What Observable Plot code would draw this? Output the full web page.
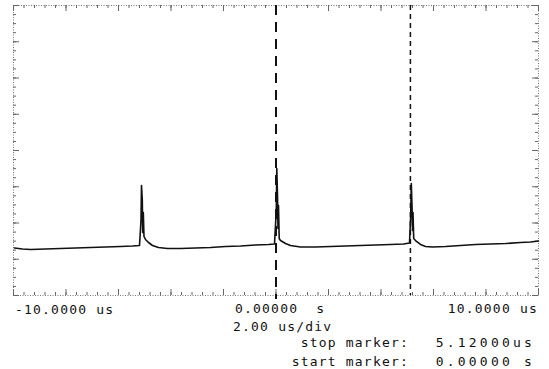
<!DOCTYPE html>
<html>
<head>
<meta charset="utf-8">
<script src="https://cdn.jsdelivr.net/npm/d3@7"></script>
<script src="https://cdn.jsdelivr.net/npm/@observablehq/plot@0.6"></script>
<style>
  html, body { margin: 0; padding: 0; background: #fff; }
  #wrap { position: relative; width: 549px; height: 369px; overflow: hidden; background: #fff; }
  #chart { position: absolute; left: 0; top: 0; }
  .lbl { position: absolute; font-family: "DejaVu Sans Mono", monospace; font-size: 13px; line-height: 13px;
         letter-spacing: 1.2px; white-space: pre; color: #111; }
  .val { letter-spacing: 3.2px; }
</style>
</head>
<body>
<div id="wrap"><div id="chart"></div></div>
<script>
// ---- data (time in microseconds, amplitude in screen divisions) ----
const times = [
  -9.962, -9.657, -9.352, -8.781, -8.210, -7.638, -7.067, -6.495, -5.924, -5.467, -5.200,
  -5.143, -5.124, -5.093, -5.078, -5.055, -5.029, -4.971, -4.857, -4.705, -4.476, -4.133,
  -3.638, -3.067, -2.495, -1.924, -1.352, -0.781, -0.286, -0.057,
  0.011, 0.030, 0.057, 0.076, 0.095, 0.122, 0.171, 0.362, 0.552, 0.933,
  1.505, 2.076, 2.648, 3.219, 3.790, 4.362, 4.857, 5.086,
  5.131, 5.154, 5.181, 5.200, 5.219, 5.246, 5.314, 5.505, 5.695, 5.962,
  6.457, 7.029, 7.600, 8.171, 8.743, 9.314, 9.695, 10.0
];
const values = [
  -2.690, -2.717, -2.731, -2.717, -2.703, -2.690, -2.676, -2.662, -2.648, -2.634, -2.621,
  -1.931, -0.966, -1.379, -2.262, -1.710, -2.372, -2.455, -2.538, -2.621, -2.676, -2.703,
  -2.703, -2.690, -2.676, -2.648, -2.634, -2.607, -2.593, -2.579,
  -1.655, -0.500, -1.241, -2.152, -1.517, -2.428, -2.483, -2.566, -2.621, -2.662,
  -2.662, -2.648, -2.634, -2.621, -2.607, -2.593, -2.579, -2.552,
  -1.793, -0.910, -1.517, -2.207, -1.710, -2.428, -2.483, -2.593, -2.648, -2.662,
  -2.648, -2.621, -2.593, -2.579, -2.566, -2.538, -2.524, -2.497
];
const markerTimes = [0, 5.12];              // start marker, stop marker (us)
const xEdgeLabels = ["-10.0000 us", "0.00000  s", "10.0000 us"];
const timebaseLabel = "2.00 us/div";
const markerNames = ["stop marker:", "start marker:"];
const markerValues = ["5.12000us", "0.00000 s"];

// graticule tick positions along the border
const xMinor = d3.range(-10, 10.001, 0.4).map(v => +v.toFixed(2));
const xMajor = d3.range(-10, 10.001, 2);
const yMinor = d3.range(-4, 4.001, 0.25);
const yMajor = d3.range(-4, 4.001, 1);

const trace = times.map((t, i) => ({t, v: values[i]}));

const W = 549, H = 300, mL = 13, mR = 11, mT = 5, mB = 5;
const fw = W - mL - mR, fh = H - mT - mB;
const tc = "#666";

const chart = Plot.plot({
  width: W, height: H,
  marginLeft: mL, marginRight: mR, marginTop: mT, marginBottom: mB,
  x: {domain: [-10, 10], axis: null},
  y: {domain: [-4, 4], axis: null},
  style: {background: "white", overflow: "visible"},
  marks: [
    Plot.frame({stroke: "#777", strokeWidth: 1, strokeDasharray: "1,1.5"}),
    // top / bottom border ticks
    Plot.ruleX(xMinor, {stroke: tc, strokeWidth: 1, insetBottom: fh - 3}),
    Plot.ruleX(xMajor, {stroke: tc, strokeWidth: 1, insetBottom: fh - 6}),
    Plot.ruleX(xMinor, {stroke: tc, strokeWidth: 1, insetTop: fh - 3}),
    Plot.ruleX(xMajor, {stroke: tc, strokeWidth: 1, insetTop: fh - 6}),
    // left / right border ticks
    Plot.ruleY(yMinor, {stroke: tc, strokeWidth: 1, insetRight: fw - 3}),
    Plot.ruleY(yMajor, {stroke: tc, strokeWidth: 1, insetRight: fw - 6}),
    Plot.ruleY(yMinor, {stroke: tc, strokeWidth: 1, insetLeft: fw - 3}),
    Plot.ruleY(yMajor, {stroke: tc, strokeWidth: 1, insetLeft: fw - 6}),
    // markers
    Plot.ruleX([markerTimes[0]], {stroke: "#111", strokeWidth: 2, strokeDasharray: "10,7", insetBottom: -4}),
    Plot.ruleX([markerTimes[1]], {stroke: "#111", strokeWidth: 1.5, strokeDasharray: "5,4"}),
    // trace
    Plot.line(trace, {x: "t", y: "v", stroke: "#111", strokeWidth: 1.6, curve: "linear"})
  ]
});
document.getElementById("chart").appendChild(chart);

// text below the graticule
const wrap = document.getElementById("wrap");
function addLabel(text, style, cls) {
  const d = document.createElement("div");
  d.className = "lbl" + (cls ? " " + cls : "");
  d.textContent = text;
  Object.assign(d.style, style);
  wrap.appendChild(d);
}
addLabel(xEdgeLabels[0], {left: "15px", top: "303px"});
addLabel(xEdgeLabels[1], {left: "235px", top: "302px"});
addLabel(xEdgeLabels[2], {right: "11px", top: "302px"});
addLabel(timebaseLabel, {left: "233px", top: "320px"});
addLabel(markerNames[0], {right: "140px", top: "336px"});
addLabel(markerValues[0], {right: "14px", top: "336px"}, "val");
addLabel(markerNames[1], {right: "140px", top: "355px"});
addLabel(markerValues[1], {right: "14px", top: "355px"}, "val");
</script>
</body>
</html>
